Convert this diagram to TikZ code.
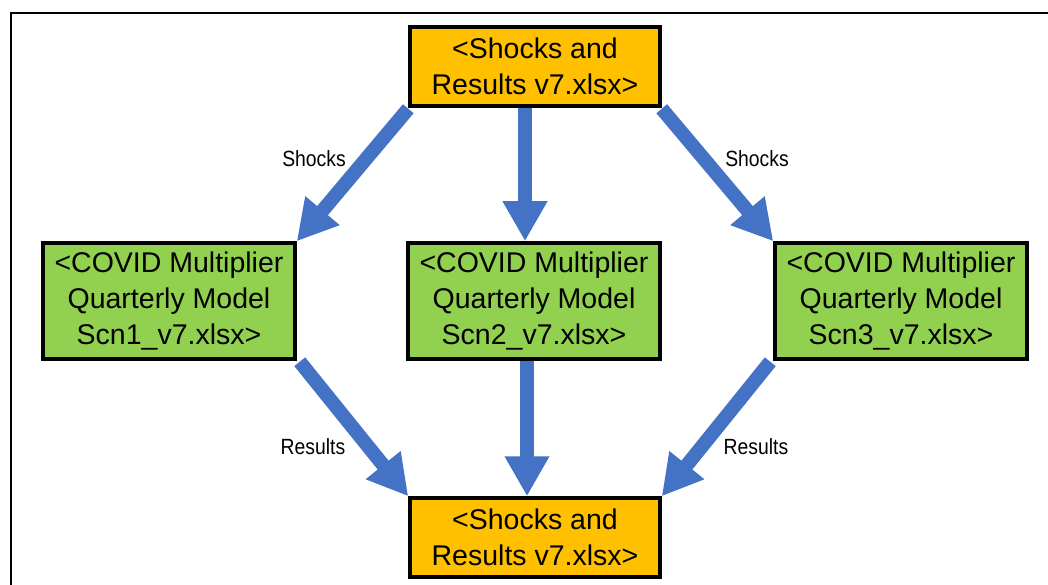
\documentclass[tikz,border=0pt]{standalone}
\usepackage{fontspec}
\setmainfont{Liberation Sans}
\usetikzlibrary{arrows.meta}
\definecolor{fileorange}{HTML}{FFC000}
\definecolor{modelgreen}{HTML}{92D050}
\definecolor{flowblue}{HTML}{4472C4}
\newcommand{\narrowtext}[1]{\scalebox{0.88}[1]{#1}}
\tikzset{
  filebox/.style={draw=black, line width=3.5pt, fill=fileorange,
    minimum width=250pt, minimum height=79pt, inner sep=0pt,
    align=center, font=\fontsize{28.5}{36}\selectfont},
  modelbox/.style={filebox, fill=modelgreen, minimum width=252pt, minimum height=116pt},
  flow/.style={draw=flowblue, line width=14pt,
    -{Triangle[width=42pt, length=40pt]}},
  flowlabel/.style={font=\fontsize{22}{26}\selectfont, inner sep=0pt}
}
\begin{document}
\begin{tikzpicture}[x=1pt, y=-1pt]
  \useasboundingbox (0,0) rectangle (1048,585);
  \fill[white] (0,0) rectangle (1048,585);
  \begin{scope}
    \clip (0,0) rectangle (1048,585);
    \draw[line width=2pt] (11,13) rectangle (1070,610);
  \end{scope}

  % workbooks
  \node[filebox] (src) at (535,66.5) {<Shocks and\\Results v7.xlsx>};
  \node[modelbox] (m1) at (169,301) {<COVID Multiplier\\Quarterly Model\\Scn1\_v7.xlsx>};
  \node[modelbox] (m2) at (534,301) {<COVID Multiplier\\Quarterly Model\\Scn2\_v7.xlsx>};
  \node[modelbox] (m3) at (901,301) {<COVID Multiplier\\Quarterly Model\\Scn3\_v7.xlsx>};
  \node[filebox] (dst) at (535,537.5) {<Shocks and\\Results v7.xlsx>};

  % shocks flow down into each scenario model
  \draw[flow] ([shift={(0,1)}]src.south west) -- (m1.north east);
  \draw[flow] ([xshift=-10pt]src.south) -- ([xshift=-9pt]m2.north);
  \draw[flow] ([shift={(0,1)}]src.south east) -- (m3.north west);

  % results flow back into the summary workbook
  \draw[flow] ([shift={(3,1)}]m1.south east) -- (dst.north west);
  \draw[flow] ([xshift=-7pt]m2.south) -- ([xshift=-8pt]dst.north);
  \draw[flow] ([shift={(-3,1)}]m3.south west) -- (dst.north east);

  % flow labels
  \node[flowlabel] (l1) at (314,159) {\narrowtext{Shocks}};
  \node[flowlabel] (l2) at (757,159) {\narrowtext{Shocks}};
  \node[flowlabel] (l3) at (313,447) {\narrowtext{Results}};
  \node[flowlabel] (l4) at (756,447) {\narrowtext{Results}};
\end{tikzpicture}
\end{document}
